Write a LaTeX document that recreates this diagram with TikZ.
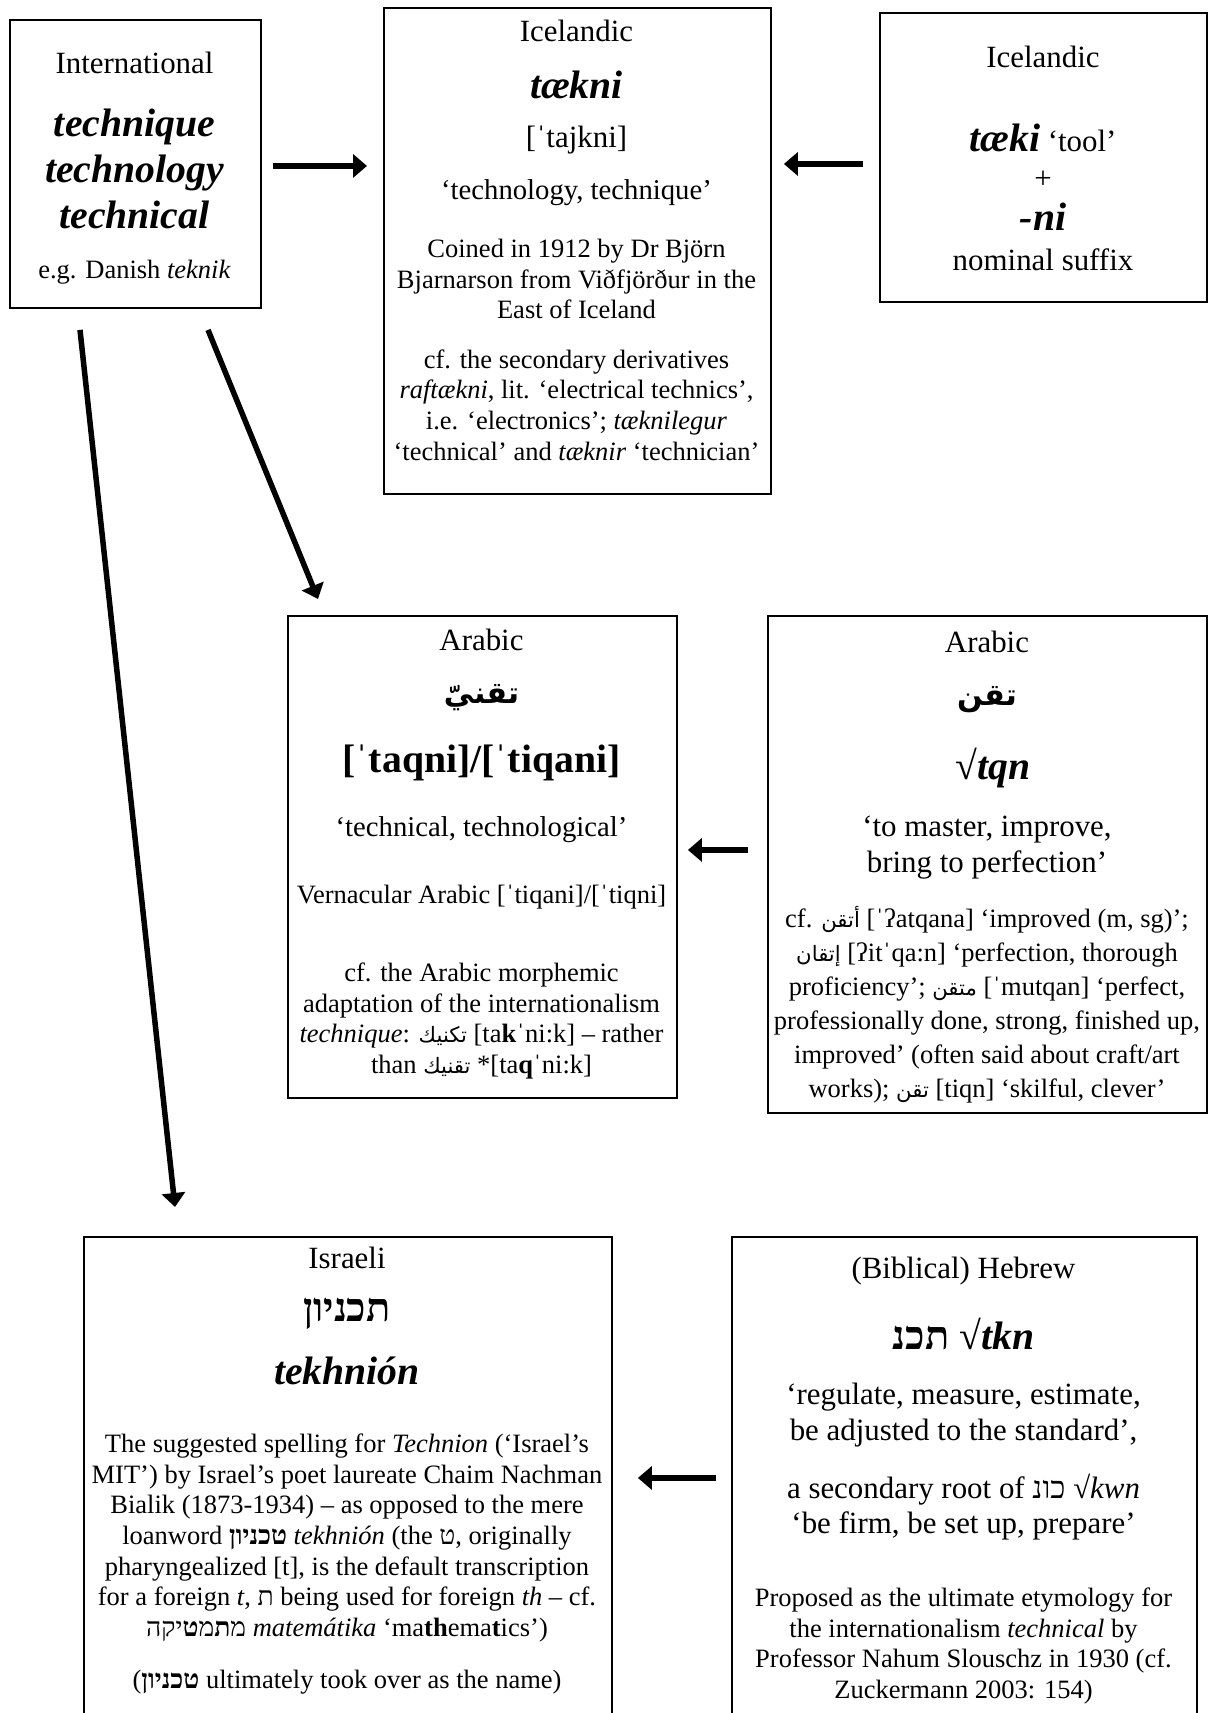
\documentclass[tikz,border=0pt]{standalone}
\usepackage{fontspec}
\setmainfont{Liberation Serif}
\newfontfamily\arabicfont[Script=Arabic,Scale=0.8]{DejaVu Sans}
\newfontfamily\arabicbig[Script=Arabic]{DejaVu Sans}
\newfontfamily\hebfont[Script=Hebrew]{Liberation Serif}
\TeXXeTstate=1
\usetikzlibrary{arrows.meta,calc}
\newcommand\szA{\fontsize{26.5}{30.6}\selectfont}
\newcommand\szB{\fontsize{28.7}{33}\selectfont}
\newcommand\szC{\fontsize{30.9}{35.5}\selectfont}
\newcommand\szD{\fontsize{39.7}{45.6}\selectfont}
\newcommand\arw[1]{{\arabicfont\beginR #1\endR}}
\newcommand\hbw[1]{{\hebfont\beginR #1\endR}}
\newcommand\bi[1]{\textbf{\textit{#1}}}
\begin{document}
\begin{tikzpicture}[x=1pt,y=-1pt,
  box/.style={draw,line width=1.9pt,inner sep=0pt,anchor=north west},
  txt/.style={align=center,inner sep=0pt},
  arr/.style={line width=5.5pt,-{Triangle[length=14pt,width=23pt]}}]
\useasboundingbox (0,0) rectangle (1208,1713);
\clip (0,0) rectangle (1208,1713);
\fill[white] (0,0) rectangle (1208,1713);

% boxes
\node[box,minimum width=251pt,minimum height=288pt] (intl) at (9,19) {};
\node[box,minimum width=387pt,minimum height=486pt] (icel) at (383,7) {};
\node[box,minimum width=327pt,minimum height=289pt] (icelR) at (879,12) {};
\node[box,minimum width=389pt,minimum height=482pt] (arab) at (287,615) {};
\node[box,minimum width=439pt,minimum height=497pt] (arabR) at (767,615) {};
\node[box,minimum width=528pt,minimum height=490pt] (isr) at (83,1236) {};
\node[box,minimum width=465pt,minimum height=490pt] (heb) at (731,1236) {};

% International
\node[txt,font=\szC] (intlA) at (134.5,63) {International};
\node[txt,font=\szD\bfseries\itshape] (intlB) at (134.5,169) {technique\\technology\\technical};
\node[txt,font=\szA] (intlC) at (134.5,272) {e.g. Danish \textit{teknik}};

% Icelandic (middle)
\node[txt,font=\szC] (icA) at (576.5,31) {Icelandic};
\node[txt,font=\szD\bfseries\itshape] (icB) at (576.5,85) {tækni};
\node[txt,font=\szC] (icC) at (576.5,140) {[ˈtajkni]};
\node[txt,font=\szB] (icD) at (576.5,193) {‘technology, technique’};
\node[txt,font=\szA] (icE) at (576.5,279) {Coined in 1912 by Dr Björn\\Bjarnarson from Viðfjörður in the\\East of Iceland};
\node[txt,font=\szA] (icF) at (576.5,405) {cf. the secondary derivatives\\\textit{raftækni}, lit. ‘electrical technics’,\\i.e. ‘electronics’; \textit{tæknilegur}\\‘technical’ and \textit{tæknir} ‘technician’};

% Icelandic (right)
\node[txt,font=\szC] (irA) at (1043,57) {Icelandic};
\node[txt,font=\szC] (irB) at (1043,138) {{\szD\bfseries\itshape tæki} ‘tool’};
\node[txt,font=\szC] (irC) at (1043,180) {+};
\node[txt,font=\szD\bfseries\itshape] (irD) at (1043,217) {-ni};
\node[txt,font=\szC] (irE) at (1043,260) {nominal suffix};

% Arabic (middle)
\node[txt,font=\szC] (arA) at (481.5,640) {Arabic};
\node[txt] (arB) at (481.5,698) {\arabicbig\bfseries\fontsize{30}{36}\selectfont\beginR تقنيّ\endR};
\node[txt,font=\szD\bfseries] (arC) at (481.5,763) {[ˈtaqni]/[ˈtiqani]};
\node[txt,font=\szB] (arD) at (481.5,830) {‘technical, technological’};
\node[txt,font=\szA] (arE) at (481.5,897) {Vernacular Arabic [ˈtiqani]/[ˈtiqni]};
\node[txt,font=\szA] (arF) at (481.5,1021) {cf. the Arabic morphemic\\adaptation of the internationalism\\\textit{technique}: \arw{تكنيك} [ta\textbf{k}ˈni:k] – rather\\than \arw{تقنيك} *[ta\textbf{q}ˈni:k]};

% Arabic (right)
\node[txt,font=\szC] (aqA) at (987,642) {Arabic};
\node[txt] (aqB) at (987,700) {\arabicbig\bfseries\fontsize{30}{36}\selectfont\beginR تقن\endR};
\node[txt,font=\szD] (aqC) at (993,768) {√\bi{tqn}};
\node[txt,font=\szC] (aqD) at (987,847.5) {‘to master, improve,\\bring to perfection’};
\node[txt,font=\fontsize{26.5}{34}\selectfont] (aqE) at (987,1005) {cf. \arw{أتقن} [ˈʔatqana] ‘improved (m, sg)’;\\\arw{إتقان} [ʔitˈqa:n] ‘perfection, thorough\\proficiency’; \arw{متقن} [ˈmutqan] ‘perfect,\\professionally done, strong, finished up,\\improved’ (often said about craft/art\\works); \arw{تقن} [tiqn] ‘skilful, clever’};

% Israeli
\node[txt,font=\szC] (isA) at (347,1258) {Israeli};
\node[txt,font=\szD\bfseries] (isB) at (347,1314) {\hbw{תכניון}};
\node[txt,font=\szD\bfseries\itshape] (isC) at (347,1371) {tekhnión};
\node[txt,font=\szA] (isD) at (347,1538) {The suggested spelling for \textit{Technion} (‘Israel’s\\MIT’) by Israel’s poet laureate Chaim Nachman\\Bialik (1873-1934) – as opposed to the mere\\loanword \textbf{\hbw{טכניון}} \textit{tekhnión} (the \hbw{ט}, originally\\pharyngealized [t], is the default transcription\\for a foreign \textit{t}, \hbw{ת} being used for foreign \textit{th} – cf.\\\hbw{מ\textbf{ת}מ\textbf{ט}יקה} \textit{matemátika} ‘ma\textbf{th}ema\textbf{t}ics’)};
\node[txt,font=\szA] (isE) at (347,1682) {(\textbf{\hbw{טכניון}} ultimately took over as the name)};

% (Biblical) Hebrew
\node[txt,font=\szC] (hbA) at (963.5,1271) {(Biblical) Hebrew};
\node[txt,font=\szD] (hbB) at (963.5,1334) {\textbf{\hbw{תכנ}} √\bi{tkn}};
\node[txt,font=\szC] (hbC) at (963.5,1415) {‘regulate, measure, estimate,\\be adjusted to the standard’,};
\node[txt,font=\szC] (hbD) at (963.5,1507) {a secondary root of \hbw{כונ} √\textit{kwn}\\‘be firm, be set up, prepare’};
\node[txt,font=\szA] (hbE) at (963.5,1646) {Proposed as the ultimate etymology for\\the internationalism \textit{technical} by\\Professor Nahum Slouschz in 1930 (cf.\\Zuckermann 2003: 154)};

% connectors
\draw[arr] ($(intl.east)+(11,2)$) -- ($(intl.east -| icel.west)+(-16,2)$);
\draw[arr] ($(icelR.west)+(-16,6.5)$) -- ($(icelR.west -| icel.east)+(12,6.5)$);
\draw[arr] ($(arabR.west)+(-19,-14.5)$) -- ($(arabR.west -| arab.east)+(10,-14.5)$);
\draw[arr] ($(heb.west)+(-15,-4)$) -- ($(heb.west -| isr.east)+(25,-4)$);
\draw[arr] ($(intl.south west)+(71,21)$) -- ($(isr.north west)+(92,-29)$);
\draw[arr] ($(intl.south west)+(199,21)$) -- ($(arab.north west)+(31,-16)$);
\end{tikzpicture}
\end{document}
